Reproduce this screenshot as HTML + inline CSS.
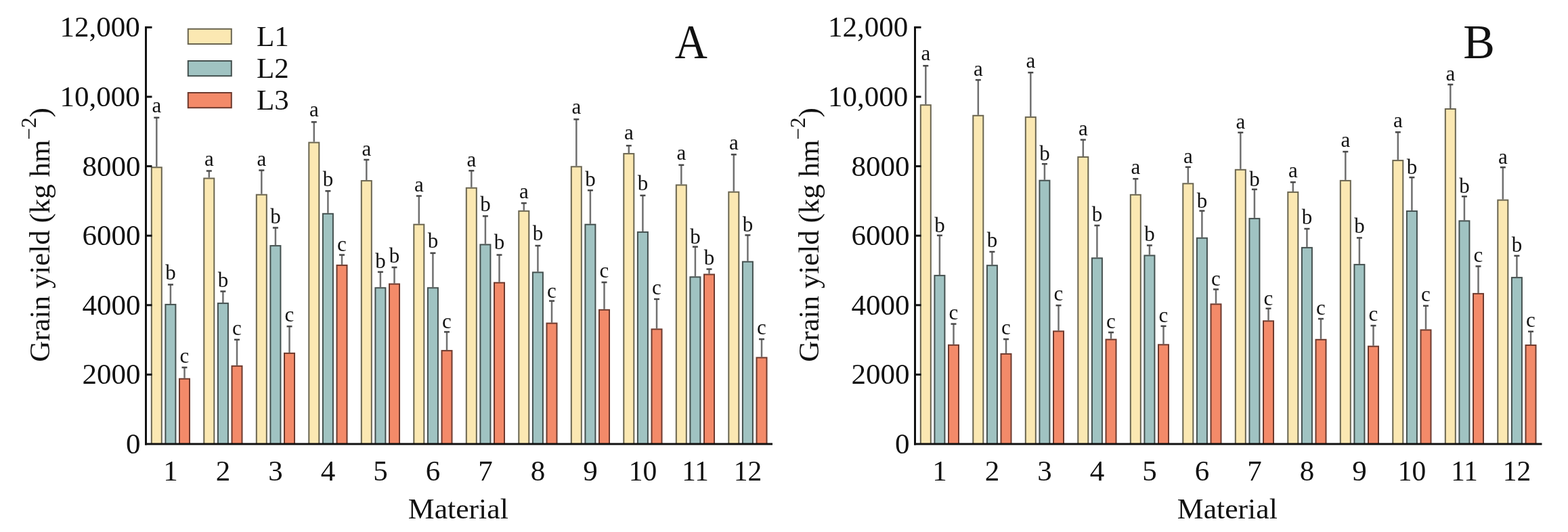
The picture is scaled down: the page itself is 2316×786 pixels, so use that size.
<!DOCTYPE html>
<html><head><meta charset="utf-8"><title>Grain yield</title>
<style>html,body{margin:0;padding:0;background:#fff;} svg{display:block;}</style>
</head><body>
<svg width="2316" height="786" viewBox="0 0 2316 786">
<style>
text { font-family: "Liberation Serif", "Times New Roman", serif; fill: #111; }
.tick { font-size: 43px; }
.sig { font-size: 31px; text-anchor: middle; }
.panel { font-size: 68px; }
</style>
<rect width="2316" height="786" fill="#fff"/>
<line x1="231.3" y1="246.3" x2="231.3" y2="173.5" stroke="#707070" stroke-width="2.5"/>
<line x1="227.3" y1="173.8" x2="235.3" y2="173.8" stroke="#484848" stroke-width="2.5"/>
<rect x="223.8" y="247.3" width="15.0" height="408.7" fill="#fbe8b2" stroke="#6a6550" stroke-width="2"/>
<text x="231.3" y="166.0" class="sig">a</text>
<line x1="251.9" y1="448.9" x2="251.9" y2="420.3" stroke="#707070" stroke-width="2.5"/>
<line x1="247.9" y1="420.5" x2="255.9" y2="420.5" stroke="#484848" stroke-width="2.5"/>
<rect x="244.4" y="449.9" width="15.0" height="206.1" fill="#a0c3c2" stroke="#44504f" stroke-width="2"/>
<text x="251.9" y="413.4" class="sig">b</text>
<line x1="272.5" y1="558.7" x2="272.5" y2="542.6" stroke="#707070" stroke-width="2.5"/>
<line x1="268.5" y1="542.9" x2="276.5" y2="542.9" stroke="#484848" stroke-width="2.5"/>
<rect x="265.0" y="559.7" width="15.0" height="96.3" fill="#f38a69" stroke="#6e3a2e" stroke-width="2"/>
<text x="272.5" y="536.3" class="sig">c</text>
<line x1="308.8" y1="262.5" x2="308.8" y2="252.2" stroke="#707070" stroke-width="2.5"/>
<line x1="304.8" y1="252.5" x2="312.8" y2="252.5" stroke="#484848" stroke-width="2.5"/>
<rect x="301.3" y="263.5" width="15.0" height="392.5" fill="#fbe8b2" stroke="#6a6550" stroke-width="2"/>
<text x="308.8" y="244.7" class="sig">a</text>
<line x1="329.4" y1="447.1" x2="329.4" y2="430.3" stroke="#707070" stroke-width="2.5"/>
<line x1="325.4" y1="430.5" x2="333.4" y2="430.5" stroke="#484848" stroke-width="2.5"/>
<rect x="321.9" y="448.1" width="15.0" height="207.9" fill="#a0c3c2" stroke="#44504f" stroke-width="2"/>
<text x="329.4" y="424.0" class="sig">b</text>
<line x1="350.0" y1="539.8" x2="350.0" y2="501.6" stroke="#707070" stroke-width="2.5"/>
<line x1="346.0" y1="501.8" x2="354.0" y2="501.8" stroke="#484848" stroke-width="2.5"/>
<rect x="342.5" y="540.8" width="15.0" height="115.2" fill="#f38a69" stroke="#6e3a2e" stroke-width="2"/>
<text x="350.0" y="495.3" class="sig">c</text>
<line x1="386.3" y1="286.7" x2="386.3" y2="251.3" stroke="#707070" stroke-width="2.5"/>
<line x1="382.3" y1="251.6" x2="390.3" y2="251.6" stroke="#484848" stroke-width="2.5"/>
<rect x="378.8" y="287.7" width="15.0" height="368.3" fill="#fbe8b2" stroke="#6a6550" stroke-width="2"/>
<text x="386.3" y="244.7" class="sig">a</text>
<line x1="406.9" y1="362.1" x2="406.9" y2="336.3" stroke="#707070" stroke-width="2.5"/>
<line x1="402.9" y1="336.5" x2="410.9" y2="336.5" stroke="#484848" stroke-width="2.5"/>
<rect x="399.4" y="363.1" width="15.0" height="292.9" fill="#a0c3c2" stroke="#44504f" stroke-width="2"/>
<text x="406.9" y="329.8" class="sig">b</text>
<line x1="427.5" y1="520.9" x2="427.5" y2="482.0" stroke="#707070" stroke-width="2.5"/>
<line x1="423.5" y1="482.2" x2="431.5" y2="482.2" stroke="#484848" stroke-width="2.5"/>
<rect x="420.0" y="521.9" width="15.0" height="134.1" fill="#f38a69" stroke="#6e3a2e" stroke-width="2"/>
<text x="427.5" y="475.0" class="sig">c</text>
<line x1="463.8" y1="209.6" x2="463.8" y2="180.1" stroke="#707070" stroke-width="2.5"/>
<line x1="459.8" y1="180.3" x2="467.8" y2="180.3" stroke="#484848" stroke-width="2.5"/>
<rect x="456.3" y="210.6" width="15.0" height="445.4" fill="#fbe8b2" stroke="#6a6550" stroke-width="2"/>
<text x="463.8" y="171.9" class="sig">a</text>
<line x1="484.4" y1="314.8" x2="484.4" y2="282.0" stroke="#707070" stroke-width="2.5"/>
<line x1="480.4" y1="282.2" x2="488.4" y2="282.2" stroke="#484848" stroke-width="2.5"/>
<rect x="476.9" y="315.8" width="15.0" height="340.2" fill="#a0c3c2" stroke="#44504f" stroke-width="2"/>
<text x="484.4" y="275.2" class="sig">b</text>
<line x1="505.0" y1="390.9" x2="505.0" y2="376.4" stroke="#707070" stroke-width="2.5"/>
<line x1="501.0" y1="376.6" x2="509.0" y2="376.6" stroke="#484848" stroke-width="2.5"/>
<rect x="497.5" y="391.9" width="15.0" height="264.1" fill="#f38a69" stroke="#6e3a2e" stroke-width="2"/>
<text x="505.0" y="371.1" class="sig">c</text>
<line x1="541.3" y1="266.1" x2="541.3" y2="235.7" stroke="#707070" stroke-width="2.5"/>
<line x1="537.3" y1="236.0" x2="545.3" y2="236.0" stroke="#484848" stroke-width="2.5"/>
<rect x="533.8" y="267.1" width="15.0" height="388.9" fill="#fbe8b2" stroke="#6a6550" stroke-width="2"/>
<text x="541.3" y="229.5" class="sig">a</text>
<line x1="561.9" y1="424.3" x2="561.9" y2="401.6" stroke="#707070" stroke-width="2.5"/>
<line x1="557.9" y1="401.8" x2="565.9" y2="401.8" stroke="#484848" stroke-width="2.5"/>
<rect x="554.4" y="425.3" width="15.0" height="230.7" fill="#a0c3c2" stroke="#44504f" stroke-width="2"/>
<text x="561.9" y="395.8" class="sig">b</text>
<line x1="582.5" y1="418.6" x2="582.5" y2="394.8" stroke="#707070" stroke-width="2.5"/>
<line x1="578.5" y1="395.0" x2="586.5" y2="395.0" stroke="#484848" stroke-width="2.5"/>
<rect x="575.0" y="419.6" width="15.0" height="236.4" fill="#f38a69" stroke="#6e3a2e" stroke-width="2"/>
<text x="582.5" y="388.1" class="sig">b</text>
<line x1="618.8" y1="330.7" x2="618.8" y2="289.3" stroke="#707070" stroke-width="2.5"/>
<line x1="614.8" y1="289.5" x2="622.8" y2="289.5" stroke="#484848" stroke-width="2.5"/>
<rect x="611.3" y="331.7" width="15.0" height="324.3" fill="#fbe8b2" stroke="#6a6550" stroke-width="2"/>
<text x="618.8" y="282.5" class="sig">a</text>
<line x1="639.4" y1="424.3" x2="639.4" y2="373.7" stroke="#707070" stroke-width="2.5"/>
<line x1="635.4" y1="373.9" x2="643.4" y2="373.9" stroke="#484848" stroke-width="2.5"/>
<rect x="631.9" y="425.3" width="15.0" height="230.7" fill="#a0c3c2" stroke="#44504f" stroke-width="2"/>
<text x="639.4" y="366.2" class="sig">b</text>
<line x1="660.0" y1="517.1" x2="660.0" y2="490.2" stroke="#707070" stroke-width="2.5"/>
<line x1="656.0" y1="490.4" x2="664.0" y2="490.4" stroke="#484848" stroke-width="2.5"/>
<rect x="652.5" y="518.1" width="15.0" height="137.9" fill="#f38a69" stroke="#6e3a2e" stroke-width="2"/>
<text x="660.0" y="484.7" class="sig">c</text>
<line x1="696.3" y1="276.7" x2="696.3" y2="251.9" stroke="#707070" stroke-width="2.5"/>
<line x1="692.3" y1="252.2" x2="700.3" y2="252.2" stroke="#484848" stroke-width="2.5"/>
<rect x="688.8" y="277.7" width="15.0" height="378.3" fill="#fbe8b2" stroke="#6a6550" stroke-width="2"/>
<text x="696.3" y="246.1" class="sig">a</text>
<line x1="716.9" y1="360.4" x2="716.9" y2="319.1" stroke="#707070" stroke-width="2.5"/>
<line x1="712.9" y1="319.3" x2="720.9" y2="319.3" stroke="#484848" stroke-width="2.5"/>
<rect x="709.4" y="361.4" width="15.0" height="294.6" fill="#a0c3c2" stroke="#44504f" stroke-width="2"/>
<text x="716.9" y="311.5" class="sig">b</text>
<line x1="737.5" y1="416.7" x2="737.5" y2="376.4" stroke="#707070" stroke-width="2.5"/>
<line x1="733.5" y1="376.6" x2="741.5" y2="376.6" stroke="#484848" stroke-width="2.5"/>
<rect x="730.0" y="417.7" width="15.0" height="238.3" fill="#f38a69" stroke="#6e3a2e" stroke-width="2"/>
<text x="737.5" y="367.8" class="sig">b</text>
<line x1="773.8" y1="310.8" x2="773.8" y2="299.9" stroke="#707070" stroke-width="2.5"/>
<line x1="769.8" y1="300.1" x2="777.8" y2="300.1" stroke="#484848" stroke-width="2.5"/>
<rect x="766.3" y="311.8" width="15.0" height="344.2" fill="#fbe8b2" stroke="#6a6550" stroke-width="2"/>
<text x="773.8" y="293.4" class="sig">a</text>
<line x1="794.4" y1="401.4" x2="794.4" y2="362.8" stroke="#707070" stroke-width="2.5"/>
<line x1="790.4" y1="363.0" x2="798.4" y2="363.0" stroke="#484848" stroke-width="2.5"/>
<rect x="786.9" y="402.4" width="15.0" height="253.6" fill="#a0c3c2" stroke="#44504f" stroke-width="2"/>
<text x="794.4" y="354.6" class="sig">b</text>
<line x1="815.0" y1="476.6" x2="815.0" y2="444.4" stroke="#707070" stroke-width="2.5"/>
<line x1="811.0" y1="444.6" x2="819.0" y2="444.6" stroke="#484848" stroke-width="2.5"/>
<rect x="807.5" y="477.6" width="15.0" height="178.4" fill="#f38a69" stroke="#6e3a2e" stroke-width="2"/>
<text x="815.0" y="439.7" class="sig">c</text>
<line x1="851.3" y1="245.3" x2="851.3" y2="176.1" stroke="#707070" stroke-width="2.5"/>
<line x1="847.3" y1="176.3" x2="855.3" y2="176.3" stroke="#484848" stroke-width="2.5"/>
<rect x="843.8" y="246.3" width="15.0" height="409.7" fill="#fbe8b2" stroke="#6a6550" stroke-width="2"/>
<text x="851.3" y="167.6" class="sig">a</text>
<line x1="871.9" y1="330.7" x2="871.9" y2="281.0" stroke="#707070" stroke-width="2.5"/>
<line x1="867.9" y1="281.2" x2="875.9" y2="281.2" stroke="#484848" stroke-width="2.5"/>
<rect x="864.4" y="331.7" width="15.0" height="324.3" fill="#a0c3c2" stroke="#44504f" stroke-width="2"/>
<text x="871.9" y="274.5" class="sig">b</text>
<line x1="892.5" y1="456.8" x2="892.5" y2="416.9" stroke="#707070" stroke-width="2.5"/>
<line x1="888.5" y1="417.1" x2="896.5" y2="417.1" stroke="#484848" stroke-width="2.5"/>
<rect x="885.0" y="457.8" width="15.0" height="198.2" fill="#f38a69" stroke="#6e3a2e" stroke-width="2"/>
<text x="892.5" y="410.3" class="sig">c</text>
<line x1="928.8" y1="226.1" x2="928.8" y2="214.9" stroke="#707070" stroke-width="2.5"/>
<line x1="924.8" y1="215.2" x2="932.8" y2="215.2" stroke="#484848" stroke-width="2.5"/>
<rect x="921.3" y="227.1" width="15.0" height="428.9" fill="#fbe8b2" stroke="#6a6550" stroke-width="2"/>
<text x="928.8" y="206.3" class="sig">a</text>
<line x1="949.4" y1="341.9" x2="949.4" y2="288.6" stroke="#707070" stroke-width="2.5"/>
<line x1="945.4" y1="288.8" x2="953.4" y2="288.8" stroke="#484848" stroke-width="2.5"/>
<rect x="941.9" y="342.9" width="15.0" height="313.1" fill="#a0c3c2" stroke="#44504f" stroke-width="2"/>
<text x="949.4" y="281.1" class="sig">b</text>
<line x1="970.0" y1="485.4" x2="970.0" y2="441.7" stroke="#707070" stroke-width="2.5"/>
<line x1="966.0" y1="441.9" x2="974.0" y2="441.9" stroke="#484848" stroke-width="2.5"/>
<rect x="962.5" y="486.4" width="15.0" height="169.6" fill="#f38a69" stroke="#6e3a2e" stroke-width="2"/>
<text x="970.0" y="435.1" class="sig">c</text>
<line x1="1006.3" y1="272.4" x2="1006.3" y2="243.6" stroke="#707070" stroke-width="2.5"/>
<line x1="1002.3" y1="243.8" x2="1010.3" y2="243.8" stroke="#484848" stroke-width="2.5"/>
<rect x="998.8" y="273.4" width="15.0" height="382.6" fill="#fbe8b2" stroke="#6a6550" stroke-width="2"/>
<text x="1006.3" y="235.5" class="sig">a</text>
<line x1="1026.9" y1="408.3" x2="1026.9" y2="364.4" stroke="#707070" stroke-width="2.5"/>
<line x1="1022.9" y1="364.6" x2="1030.9" y2="364.6" stroke="#484848" stroke-width="2.5"/>
<rect x="1019.4" y="409.3" width="15.0" height="246.7" fill="#a0c3c2" stroke="#44504f" stroke-width="2"/>
<text x="1026.9" y="359.5" class="sig">b</text>
<line x1="1047.5" y1="404.5" x2="1047.5" y2="397.4" stroke="#707070" stroke-width="2.5"/>
<line x1="1043.5" y1="397.6" x2="1051.5" y2="397.6" stroke="#484848" stroke-width="2.5"/>
<rect x="1040.0" y="405.5" width="15.0" height="250.5" fill="#f38a69" stroke="#6e3a2e" stroke-width="2"/>
<text x="1047.5" y="390.8" class="sig">b</text>
<line x1="1083.8" y1="282.7" x2="1083.8" y2="228.1" stroke="#707070" stroke-width="2.5"/>
<line x1="1079.8" y1="228.3" x2="1087.8" y2="228.3" stroke="#484848" stroke-width="2.5"/>
<rect x="1076.3" y="283.7" width="15.0" height="372.3" fill="#fbe8b2" stroke="#6a6550" stroke-width="2"/>
<text x="1083.8" y="220.6" class="sig">a</text>
<line x1="1104.4" y1="385.7" x2="1104.4" y2="347.2" stroke="#707070" stroke-width="2.5"/>
<line x1="1100.4" y1="347.4" x2="1108.4" y2="347.4" stroke="#484848" stroke-width="2.5"/>
<rect x="1096.9" y="386.7" width="15.0" height="269.3" fill="#a0c3c2" stroke="#44504f" stroke-width="2"/>
<text x="1104.4" y="342.0" class="sig">b</text>
<line x1="1125.0" y1="527.4" x2="1125.0" y2="500.9" stroke="#707070" stroke-width="2.5"/>
<line x1="1121.0" y1="501.1" x2="1129.0" y2="501.1" stroke="#484848" stroke-width="2.5"/>
<rect x="1117.5" y="528.4" width="15.0" height="127.6" fill="#f38a69" stroke="#6e3a2e" stroke-width="2"/>
<text x="1125.0" y="493.9" class="sig">c</text>
<line x1="215.5" y1="38.9" x2="215.5" y2="657.5" stroke="#111" stroke-width="3"/>
<line x1="214.0" y1="656.0" x2="1141.0" y2="656.0" stroke="#111" stroke-width="3"/>
<text x="207.5" y="670.0" class="tick" text-anchor="end">0</text>
<line x1="215.5" y1="553.4" x2="224.5" y2="553.4" stroke="#111" stroke-width="3"/>
<text x="207.5" y="567.4" class="tick" text-anchor="end">2000</text>
<line x1="215.5" y1="450.8" x2="224.5" y2="450.8" stroke="#111" stroke-width="3"/>
<text x="207.5" y="464.8" class="tick" text-anchor="end">4000</text>
<line x1="215.5" y1="348.2" x2="224.5" y2="348.2" stroke="#111" stroke-width="3"/>
<text x="207.5" y="362.2" class="tick" text-anchor="end">6000</text>
<line x1="215.5" y1="245.6" x2="224.5" y2="245.6" stroke="#111" stroke-width="3"/>
<text x="207.5" y="259.6" class="tick" text-anchor="end">8000</text>
<line x1="215.5" y1="143.0" x2="224.5" y2="143.0" stroke="#111" stroke-width="3"/>
<text x="206.7" y="157.0" class="tick" text-anchor="end">10,000</text>
<line x1="215.5" y1="40.4" x2="224.5" y2="40.4" stroke="#111" stroke-width="3"/>
<text x="206.7" y="54.4" class="tick" text-anchor="end">12,000</text>
<text x="251.9" y="709.9" class="tick" text-anchor="middle">1</text>
<text x="329.4" y="709.9" class="tick" text-anchor="middle">2</text>
<text x="406.9" y="709.9" class="tick" text-anchor="middle">3</text>
<text x="484.4" y="709.9" class="tick" text-anchor="middle">4</text>
<text x="561.9" y="709.9" class="tick" text-anchor="middle">5</text>
<text x="639.4" y="709.9" class="tick" text-anchor="middle">6</text>
<text x="716.9" y="709.9" class="tick" text-anchor="middle">7</text>
<text x="794.4" y="709.9" class="tick" text-anchor="middle">8</text>
<text x="871.9" y="709.9" class="tick" text-anchor="middle">9</text>
<text x="949.4" y="709.9" class="tick" text-anchor="middle" textLength="41.5" lengthAdjust="spacingAndGlyphs">10</text>
<text x="1026.9" y="709.9" class="tick" text-anchor="middle" textLength="39.5" lengthAdjust="spacingAndGlyphs">11</text>
<text x="1104.4" y="709.9" class="tick" text-anchor="middle" textLength="41.5" lengthAdjust="spacingAndGlyphs">12</text>
<text x="676.8" y="765.8" class="tick" text-anchor="middle" textLength="148" lengthAdjust="spacingAndGlyphs">Material</text>
<text transform="translate(996.8,86.3) scale(0.98,1.055)" class="panel">A</text>
<text transform="translate(73.0,347) rotate(-90)" class="tick" text-anchor="middle">Grain yield (kg hm<tspan dy="-20" font-size="31">−2</tspan><tspan dy="20">)</tspan></text>
<line x1="1367.3" y1="154.2" x2="1367.3" y2="97.0" stroke="#707070" stroke-width="2.5"/>
<line x1="1363.3" y1="97.2" x2="1371.3" y2="97.2" stroke="#484848" stroke-width="2.5"/>
<rect x="1359.8" y="155.2" width="15.0" height="500.8" fill="#fbe8b2" stroke="#6a6550" stroke-width="2"/>
<text x="1367.3" y="88.6" class="sig">a</text>
<line x1="1387.9" y1="406.1" x2="1387.9" y2="347.6" stroke="#707070" stroke-width="2.5"/>
<line x1="1383.9" y1="347.8" x2="1391.9" y2="347.8" stroke="#484848" stroke-width="2.5"/>
<rect x="1380.4" y="407.1" width="15.0" height="248.9" fill="#a0c3c2" stroke="#44504f" stroke-width="2"/>
<text x="1387.9" y="342.9" class="sig">b</text>
<line x1="1408.5" y1="508.8" x2="1408.5" y2="478.4" stroke="#707070" stroke-width="2.5"/>
<line x1="1404.5" y1="478.6" x2="1412.5" y2="478.6" stroke="#484848" stroke-width="2.5"/>
<rect x="1401.0" y="509.8" width="15.0" height="146.2" fill="#f38a69" stroke="#6e3a2e" stroke-width="2"/>
<text x="1408.5" y="471.9" class="sig">c</text>
<line x1="1444.8" y1="169.8" x2="1444.8" y2="117.8" stroke="#707070" stroke-width="2.5"/>
<line x1="1440.8" y1="118.1" x2="1448.8" y2="118.1" stroke="#484848" stroke-width="2.5"/>
<rect x="1437.3" y="170.8" width="15.0" height="485.2" fill="#fbe8b2" stroke="#6a6550" stroke-width="2"/>
<text x="1444.8" y="111.8" class="sig">a</text>
<line x1="1465.4" y1="391.2" x2="1465.4" y2="371.8" stroke="#707070" stroke-width="2.5"/>
<line x1="1461.4" y1="372.0" x2="1469.4" y2="372.0" stroke="#484848" stroke-width="2.5"/>
<rect x="1457.9" y="392.2" width="15.0" height="263.8" fill="#a0c3c2" stroke="#44504f" stroke-width="2"/>
<text x="1465.4" y="365.0" class="sig">b</text>
<line x1="1486.0" y1="521.9" x2="1486.0" y2="500.9" stroke="#707070" stroke-width="2.5"/>
<line x1="1482.0" y1="501.1" x2="1490.0" y2="501.1" stroke="#484848" stroke-width="2.5"/>
<rect x="1478.5" y="522.9" width="15.0" height="133.1" fill="#f38a69" stroke="#6e3a2e" stroke-width="2"/>
<text x="1486.0" y="494.0" class="sig">c</text>
<line x1="1522.3" y1="172.1" x2="1522.3" y2="106.9" stroke="#707070" stroke-width="2.5"/>
<line x1="1518.3" y1="107.2" x2="1526.3" y2="107.2" stroke="#484848" stroke-width="2.5"/>
<rect x="1514.8" y="173.1" width="15.0" height="482.9" fill="#fbe8b2" stroke="#6a6550" stroke-width="2"/>
<text x="1522.3" y="100.2" class="sig">a</text>
<line x1="1542.9" y1="265.7" x2="1542.9" y2="241.9" stroke="#707070" stroke-width="2.5"/>
<line x1="1538.9" y1="242.2" x2="1546.9" y2="242.2" stroke="#484848" stroke-width="2.5"/>
<rect x="1535.4" y="266.7" width="15.0" height="389.3" fill="#a0c3c2" stroke="#44504f" stroke-width="2"/>
<text x="1542.9" y="236.5" class="sig">b</text>
<line x1="1563.5" y1="488.4" x2="1563.5" y2="451.0" stroke="#707070" stroke-width="2.5"/>
<line x1="1559.5" y1="451.2" x2="1567.5" y2="451.2" stroke="#484848" stroke-width="2.5"/>
<rect x="1556.0" y="489.4" width="15.0" height="166.6" fill="#f38a69" stroke="#6e3a2e" stroke-width="2"/>
<text x="1563.5" y="444.1" class="sig">c</text>
<line x1="1599.8" y1="231.0" x2="1599.8" y2="206.2" stroke="#707070" stroke-width="2.5"/>
<line x1="1595.8" y1="206.5" x2="1603.8" y2="206.5" stroke="#484848" stroke-width="2.5"/>
<rect x="1592.3" y="232.0" width="15.0" height="424.0" fill="#fbe8b2" stroke="#6a6550" stroke-width="2"/>
<text x="1599.8" y="200.1" class="sig">a</text>
<line x1="1620.4" y1="380.4" x2="1620.4" y2="332.9" stroke="#707070" stroke-width="2.5"/>
<line x1="1616.4" y1="333.1" x2="1624.4" y2="333.1" stroke="#484848" stroke-width="2.5"/>
<rect x="1612.9" y="381.4" width="15.0" height="274.6" fill="#a0c3c2" stroke="#44504f" stroke-width="2"/>
<text x="1620.4" y="327.0" class="sig">b</text>
<line x1="1641.0" y1="500.6" x2="1641.0" y2="490.9" stroke="#707070" stroke-width="2.5"/>
<line x1="1637.0" y1="491.1" x2="1645.0" y2="491.1" stroke="#484848" stroke-width="2.5"/>
<rect x="1633.5" y="501.6" width="15.0" height="154.4" fill="#f38a69" stroke="#6e3a2e" stroke-width="2"/>
<text x="1641.0" y="485.1" class="sig">c</text>
<line x1="1677.3" y1="286.8" x2="1677.3" y2="264.0" stroke="#707070" stroke-width="2.5"/>
<line x1="1673.3" y1="264.2" x2="1681.3" y2="264.2" stroke="#484848" stroke-width="2.5"/>
<rect x="1669.8" y="287.8" width="15.0" height="368.2" fill="#fbe8b2" stroke="#6a6550" stroke-width="2"/>
<text x="1677.3" y="257.0" class="sig">a</text>
<line x1="1697.9" y1="376.5" x2="1697.9" y2="362.3" stroke="#707070" stroke-width="2.5"/>
<line x1="1693.9" y1="362.5" x2="1701.9" y2="362.5" stroke="#484848" stroke-width="2.5"/>
<rect x="1690.4" y="377.5" width="15.0" height="278.5" fill="#a0c3c2" stroke="#44504f" stroke-width="2"/>
<text x="1697.9" y="356.2" class="sig">b</text>
<line x1="1718.5" y1="508.3" x2="1718.5" y2="481.5" stroke="#707070" stroke-width="2.5"/>
<line x1="1714.5" y1="481.8" x2="1722.5" y2="481.8" stroke="#484848" stroke-width="2.5"/>
<rect x="1711.0" y="509.3" width="15.0" height="146.7" fill="#f38a69" stroke="#6e3a2e" stroke-width="2"/>
<text x="1718.5" y="476.4" class="sig">c</text>
<line x1="1754.8" y1="270.3" x2="1754.8" y2="246.5" stroke="#707070" stroke-width="2.5"/>
<line x1="1750.8" y1="246.8" x2="1758.8" y2="246.8" stroke="#484848" stroke-width="2.5"/>
<rect x="1747.3" y="271.3" width="15.0" height="384.7" fill="#fbe8b2" stroke="#6a6550" stroke-width="2"/>
<text x="1754.8" y="241.4" class="sig">a</text>
<line x1="1775.4" y1="350.7" x2="1775.4" y2="311.3" stroke="#707070" stroke-width="2.5"/>
<line x1="1771.4" y1="311.5" x2="1779.4" y2="311.5" stroke="#484848" stroke-width="2.5"/>
<rect x="1767.9" y="351.7" width="15.0" height="304.3" fill="#a0c3c2" stroke="#44504f" stroke-width="2"/>
<text x="1775.4" y="306.6" class="sig">b</text>
<line x1="1796.0" y1="448.4" x2="1796.0" y2="427.3" stroke="#707070" stroke-width="2.5"/>
<line x1="1792.0" y1="427.5" x2="1800.0" y2="427.5" stroke="#484848" stroke-width="2.5"/>
<rect x="1788.5" y="449.4" width="15.0" height="206.6" fill="#f38a69" stroke="#6e3a2e" stroke-width="2"/>
<text x="1796.0" y="422.3" class="sig">c</text>
<line x1="1832.3" y1="249.8" x2="1832.3" y2="195.5" stroke="#707070" stroke-width="2.5"/>
<line x1="1828.3" y1="195.8" x2="1836.3" y2="195.8" stroke="#484848" stroke-width="2.5"/>
<rect x="1824.8" y="250.8" width="15.0" height="405.2" fill="#fbe8b2" stroke="#6a6550" stroke-width="2"/>
<text x="1832.3" y="189.8" class="sig">a</text>
<line x1="1852.9" y1="321.9" x2="1852.9" y2="279.5" stroke="#707070" stroke-width="2.5"/>
<line x1="1848.9" y1="279.8" x2="1856.9" y2="279.8" stroke="#484848" stroke-width="2.5"/>
<rect x="1845.4" y="322.9" width="15.0" height="333.1" fill="#a0c3c2" stroke="#44504f" stroke-width="2"/>
<text x="1852.9" y="275.2" class="sig">b</text>
<line x1="1873.5" y1="473.3" x2="1873.5" y2="455.5" stroke="#707070" stroke-width="2.5"/>
<line x1="1869.5" y1="455.8" x2="1877.5" y2="455.8" stroke="#484848" stroke-width="2.5"/>
<rect x="1866.0" y="474.3" width="15.0" height="181.7" fill="#f38a69" stroke="#6e3a2e" stroke-width="2"/>
<text x="1873.5" y="450.8" class="sig">c</text>
<line x1="1909.8" y1="282.9" x2="1909.8" y2="269.0" stroke="#707070" stroke-width="2.5"/>
<line x1="1905.8" y1="269.2" x2="1913.8" y2="269.2" stroke="#484848" stroke-width="2.5"/>
<rect x="1902.3" y="283.9" width="15.0" height="372.1" fill="#fbe8b2" stroke="#6a6550" stroke-width="2"/>
<text x="1909.8" y="261.9" class="sig">a</text>
<line x1="1930.4" y1="364.9" x2="1930.4" y2="337.8" stroke="#707070" stroke-width="2.5"/>
<line x1="1926.4" y1="338.0" x2="1934.4" y2="338.0" stroke="#484848" stroke-width="2.5"/>
<rect x="1922.9" y="365.9" width="15.0" height="290.1" fill="#a0c3c2" stroke="#44504f" stroke-width="2"/>
<text x="1930.4" y="331.4" class="sig">b</text>
<line x1="1951.0" y1="500.8" x2="1951.0" y2="470.8" stroke="#707070" stroke-width="2.5"/>
<line x1="1947.0" y1="471.0" x2="1955.0" y2="471.0" stroke="#484848" stroke-width="2.5"/>
<rect x="1943.5" y="501.8" width="15.0" height="154.2" fill="#f38a69" stroke="#6e3a2e" stroke-width="2"/>
<text x="1951.0" y="465.0" class="sig">c</text>
<line x1="1987.3" y1="265.9" x2="1987.3" y2="223.8" stroke="#707070" stroke-width="2.5"/>
<line x1="1983.3" y1="224.1" x2="1991.3" y2="224.1" stroke="#484848" stroke-width="2.5"/>
<rect x="1979.8" y="266.9" width="15.0" height="389.1" fill="#fbe8b2" stroke="#6a6550" stroke-width="2"/>
<text x="1987.3" y="216.8" class="sig">a</text>
<line x1="2007.9" y1="389.9" x2="2007.9" y2="351.2" stroke="#707070" stroke-width="2.5"/>
<line x1="2003.9" y1="351.4" x2="2011.9" y2="351.4" stroke="#484848" stroke-width="2.5"/>
<rect x="2000.4" y="390.9" width="15.0" height="265.1" fill="#a0c3c2" stroke="#44504f" stroke-width="2"/>
<text x="2007.9" y="344.2" class="sig">b</text>
<line x1="2028.5" y1="510.7" x2="2028.5" y2="480.9" stroke="#707070" stroke-width="2.5"/>
<line x1="2024.5" y1="481.1" x2="2032.5" y2="481.1" stroke="#484848" stroke-width="2.5"/>
<rect x="2021.0" y="511.7" width="15.0" height="144.3" fill="#f38a69" stroke="#6e3a2e" stroke-width="2"/>
<text x="2028.5" y="474.2" class="sig">c</text>
<line x1="2064.8" y1="236.1" x2="2064.8" y2="195.1" stroke="#707070" stroke-width="2.5"/>
<line x1="2060.8" y1="195.3" x2="2068.8" y2="195.3" stroke="#484848" stroke-width="2.5"/>
<rect x="2057.3" y="237.1" width="15.0" height="418.9" fill="#fbe8b2" stroke="#6a6550" stroke-width="2"/>
<text x="2064.8" y="188.0" class="sig">a</text>
<line x1="2085.4" y1="310.9" x2="2085.4" y2="261.9" stroke="#707070" stroke-width="2.5"/>
<line x1="2081.4" y1="262.1" x2="2089.4" y2="262.1" stroke="#484848" stroke-width="2.5"/>
<rect x="2077.9" y="311.9" width="15.0" height="344.1" fill="#a0c3c2" stroke="#44504f" stroke-width="2"/>
<text x="2085.4" y="256.5" class="sig">b</text>
<line x1="2106.0" y1="486.5" x2="2106.0" y2="451.5" stroke="#707070" stroke-width="2.5"/>
<line x1="2102.0" y1="451.8" x2="2110.0" y2="451.8" stroke="#484848" stroke-width="2.5"/>
<rect x="2098.5" y="487.5" width="15.0" height="168.5" fill="#f38a69" stroke="#6e3a2e" stroke-width="2"/>
<text x="2106.0" y="445.1" class="sig">c</text>
<line x1="2142.3" y1="160.0" x2="2142.3" y2="124.6" stroke="#707070" stroke-width="2.5"/>
<line x1="2138.3" y1="124.9" x2="2146.3" y2="124.9" stroke="#484848" stroke-width="2.5"/>
<rect x="2134.8" y="161.0" width="15.0" height="495.0" fill="#fbe8b2" stroke="#6a6550" stroke-width="2"/>
<text x="2142.3" y="118.5" class="sig">a</text>
<line x1="2162.9" y1="325.4" x2="2162.9" y2="290.0" stroke="#707070" stroke-width="2.5"/>
<line x1="2158.9" y1="290.2" x2="2166.9" y2="290.2" stroke="#484848" stroke-width="2.5"/>
<rect x="2155.4" y="326.4" width="15.0" height="329.6" fill="#a0c3c2" stroke="#44504f" stroke-width="2"/>
<text x="2162.9" y="285.3" class="sig">b</text>
<line x1="2183.5" y1="432.9" x2="2183.5" y2="393.2" stroke="#707070" stroke-width="2.5"/>
<line x1="2179.5" y1="393.4" x2="2187.5" y2="393.4" stroke="#484848" stroke-width="2.5"/>
<rect x="2176.0" y="433.9" width="15.0" height="222.1" fill="#f38a69" stroke="#6e3a2e" stroke-width="2"/>
<text x="2183.5" y="387.2" class="sig">c</text>
<line x1="2219.8" y1="294.6" x2="2219.8" y2="247.0" stroke="#707070" stroke-width="2.5"/>
<line x1="2215.8" y1="247.2" x2="2223.8" y2="247.2" stroke="#484848" stroke-width="2.5"/>
<rect x="2212.3" y="295.6" width="15.0" height="360.4" fill="#fbe8b2" stroke="#6a6550" stroke-width="2"/>
<text x="2219.8" y="242.3" class="sig">a</text>
<line x1="2240.4" y1="409.1" x2="2240.4" y2="377.7" stroke="#707070" stroke-width="2.5"/>
<line x1="2236.4" y1="377.9" x2="2244.4" y2="377.9" stroke="#484848" stroke-width="2.5"/>
<rect x="2232.9" y="410.1" width="15.0" height="245.9" fill="#a0c3c2" stroke="#44504f" stroke-width="2"/>
<text x="2240.4" y="372.3" class="sig">b</text>
<line x1="2261.0" y1="509.0" x2="2261.0" y2="489.5" stroke="#707070" stroke-width="2.5"/>
<line x1="2257.0" y1="489.8" x2="2265.0" y2="489.8" stroke="#484848" stroke-width="2.5"/>
<rect x="2253.5" y="510.0" width="15.0" height="146.0" fill="#f38a69" stroke="#6e3a2e" stroke-width="2"/>
<text x="2261.0" y="482.5" class="sig">c</text>
<line x1="1351.5" y1="38.9" x2="1351.5" y2="657.5" stroke="#111" stroke-width="3"/>
<line x1="1350.0" y1="656.0" x2="2277.5" y2="656.0" stroke="#111" stroke-width="3"/>
<text x="1343.5" y="670.0" class="tick" text-anchor="end">0</text>
<line x1="1351.5" y1="553.4" x2="1360.5" y2="553.4" stroke="#111" stroke-width="3"/>
<text x="1343.5" y="567.4" class="tick" text-anchor="end">2000</text>
<line x1="1351.5" y1="450.8" x2="1360.5" y2="450.8" stroke="#111" stroke-width="3"/>
<text x="1343.5" y="464.8" class="tick" text-anchor="end">4000</text>
<line x1="1351.5" y1="348.2" x2="1360.5" y2="348.2" stroke="#111" stroke-width="3"/>
<text x="1343.5" y="362.2" class="tick" text-anchor="end">6000</text>
<line x1="1351.5" y1="245.6" x2="1360.5" y2="245.6" stroke="#111" stroke-width="3"/>
<text x="1343.5" y="259.6" class="tick" text-anchor="end">8000</text>
<line x1="1351.5" y1="143.0" x2="1360.5" y2="143.0" stroke="#111" stroke-width="3"/>
<text x="1341.2" y="157.0" class="tick" text-anchor="end">10,000</text>
<line x1="1351.5" y1="40.4" x2="1360.5" y2="40.4" stroke="#111" stroke-width="3"/>
<text x="1341.2" y="54.4" class="tick" text-anchor="end">12,000</text>
<text x="1387.9" y="709.9" class="tick" text-anchor="middle">1</text>
<text x="1465.4" y="709.9" class="tick" text-anchor="middle">2</text>
<text x="1542.9" y="709.9" class="tick" text-anchor="middle">3</text>
<text x="1620.4" y="709.9" class="tick" text-anchor="middle">4</text>
<text x="1697.9" y="709.9" class="tick" text-anchor="middle">5</text>
<text x="1775.4" y="709.9" class="tick" text-anchor="middle">6</text>
<text x="1852.9" y="709.9" class="tick" text-anchor="middle">7</text>
<text x="1930.4" y="709.9" class="tick" text-anchor="middle">8</text>
<text x="2007.9" y="709.9" class="tick" text-anchor="middle">9</text>
<text x="2085.4" y="709.9" class="tick" text-anchor="middle" textLength="41.5" lengthAdjust="spacingAndGlyphs">10</text>
<text x="2162.9" y="709.9" class="tick" text-anchor="middle" textLength="39.5" lengthAdjust="spacingAndGlyphs">11</text>
<text x="2240.4" y="709.9" class="tick" text-anchor="middle" textLength="41.5" lengthAdjust="spacingAndGlyphs">12</text>
<text x="1812.8" y="765.8" class="tick" text-anchor="middle" textLength="148" lengthAdjust="spacingAndGlyphs">Material</text>
<text transform="translate(2161.2,86.3) scale(1.03,1.06)" class="panel">B</text>
<text transform="translate(1208.5,347) rotate(-90)" class="tick" text-anchor="middle">Grain yield (kg hm<tspan dy="-20" font-size="31">−2</tspan><tspan dy="20">)</tspan></text>
<rect x="277.8" y="42.8" width="64" height="22.2" fill="#fbe8b2" stroke="#6a6550" stroke-width="2"/><text x="379" y="67.8" class="tick">L1</text><rect x="277.8" y="90.0" width="64" height="22.2" fill="#a0c3c2" stroke="#44504f" stroke-width="2"/><text x="379" y="115.0" class="tick">L2</text><rect x="277.8" y="137.0" width="64" height="22.2" fill="#f38a69" stroke="#6e3a2e" stroke-width="2"/><text x="379" y="162.0" class="tick">L3</text>
</svg>
</body></html>
